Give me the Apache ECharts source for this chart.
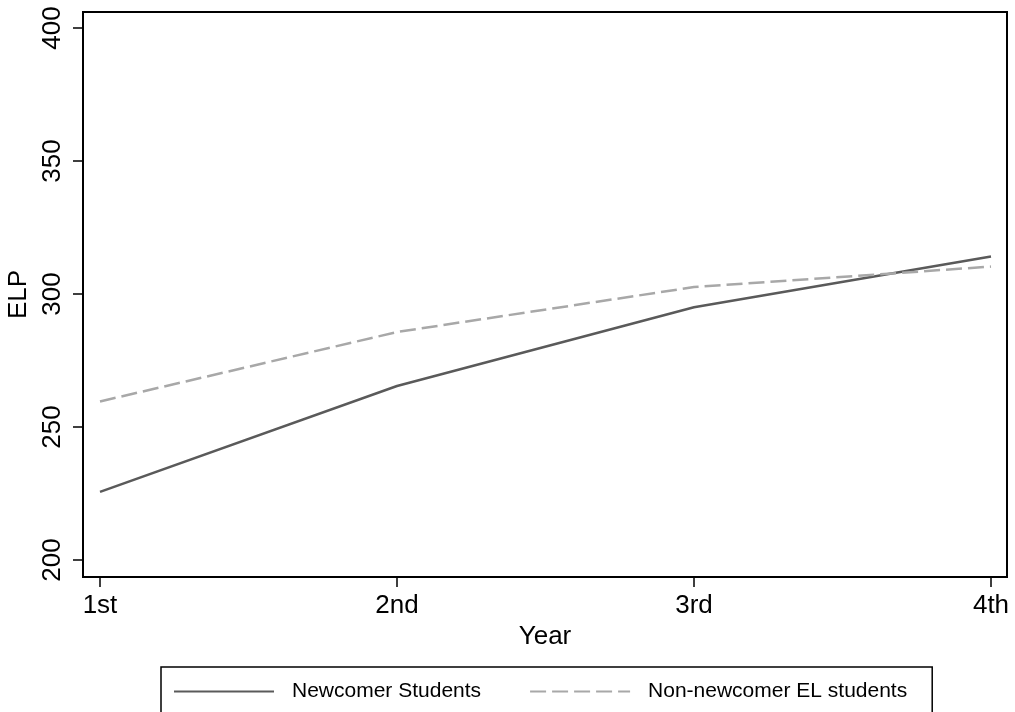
<!DOCTYPE html>
<html>
<head>
<meta charset="utf-8">
<script src="https://cdn.jsdelivr.net/npm/echarts@6/dist/echarts.min.js"></script>
<style>html,body{margin:0;padding:0;background:#fff;}#c{width:1015px;height:712px;}</style>
</head>
<body>
<div id="c"></div>
<script>
var yearLabels = ['1st', '2nd', '3rd', '4th'];
var yearIndex = [1, 2, 3, 4];
var newcomer = [225.6, 265.4, 295.0, 314.1];
var nonNewcomer = [259.6, 285.7, 302.6, 310.3];
var yTicks = [200, 250, 300, 350, 400];

function pairs(vals) { return yearIndex.map(function (x, i) { return [x, vals[i]]; }); }

var chart = echarts.init(document.getElementById('c'), null, { renderer: 'canvas' });
var FONT = 'Liberation Sans';
chart.setOption({
  animation: false,
  backgroundColor: '#fff',
  grid: { left: 83, top: 12, right: 8, bottom: 135, show: true, borderColor: '#000', borderWidth: 2,
    backgroundColor: 'transparent', containLabel: false, outerBoundsMode: 'none' },
  xAxis: {
    type: 'value', min: 1 - 17 / 297, max: 4 + 16 / 297,
    name: 'Year', nameLocation: 'middle', nameGap: 46,
    nameTextStyle: { fontFamily: FONT, fontSize: 26, color: '#000' },
    axisLine: { show: true, onZero: false, lineStyle: { color: '#000', width: 2 } },
    axisTick: { show: true, length: 10, lineStyle: { color: '#000', width: 1.5 }, customValues: yearIndex },
    axisLabel: { fontFamily: FONT, fontSize: 26, color: '#000', margin: 16, customValues: yearIndex,
      formatter: function (v) { return yearLabels[Math.round(v) - 1]; } },
    splitLine: { show: false }
  },
  yAxis: {
    type: 'value', min: 200 - 17 / 2.66, max: 400 + 16 / 2.66,
    name: 'ELP', nameLocation: 'middle', nameGap: 42, nameRotate: 90,
    nameTextStyle: { fontFamily: FONT, fontSize: 26, color: '#000' },
    axisLine: { show: true, onZero: false, lineStyle: { color: '#000', width: 2 } },
    axisTick: { show: true, length: 10, lineStyle: { color: '#000', width: 1.5 }, customValues: yTicks },
    axisLabel: { fontFamily: FONT, fontSize: 26, color: '#000', rotate: 90, margin: 17, customValues: yTicks },
    splitLine: { show: false }
  },
  legend: {
    left: 161, top: 667,
    orient: 'horizontal',
    borderColor: '#000', borderWidth: 1.5,
    padding: [14, 25, 40, 12],
    itemWidth: 100, itemHeight: 20, itemGap: 48,
    itemStyle: { opacity: 0 },
    textStyle: { fontFamily: FONT, fontSize: 21, color: '#000', padding: [0, 0, 0, 13] },
    data: ['Newcomer Students', 'Non-newcomer EL students']
  },
  series: [
    { name: 'Newcomer Students', type: 'line', data: pairs(newcomer), symbol: 'none', showSymbol: false,
      lineStyle: { color: '#5a5a5a', width: 2.5 }, itemStyle: { color: '#5a5a5a' } },
    { name: 'Non-newcomer EL students', type: 'line', data: pairs(nonNewcomer), symbol: 'none', showSymbol: false,
      lineStyle: { color: '#a8a8a8', width: 2.5, type: [16, 6] }, itemStyle: { color: '#a8a8a8' } }
  ]
});
</script>
</body>
</html>
